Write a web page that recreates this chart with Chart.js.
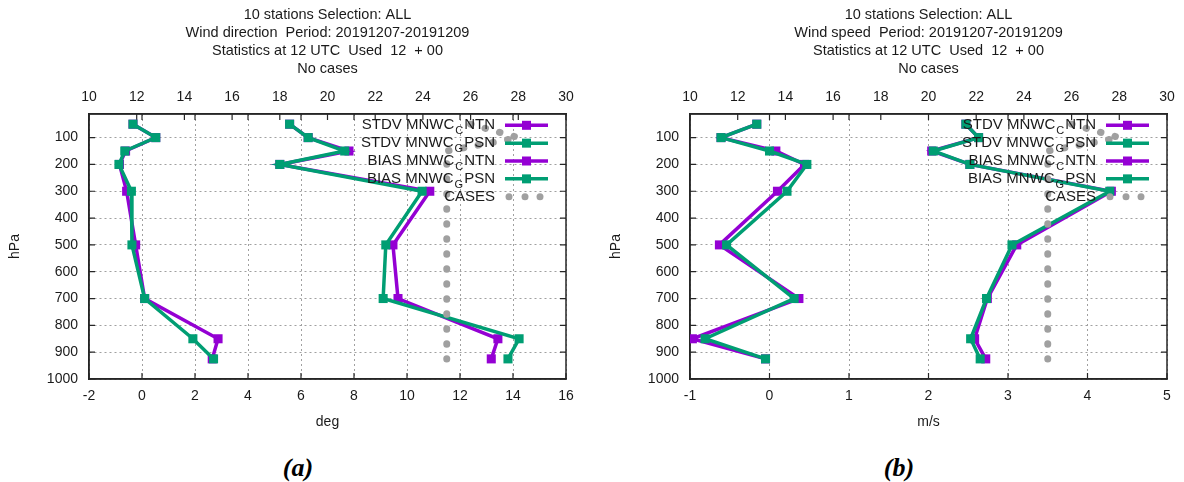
<!DOCTYPE html>
<html>
<head>
<meta charset="utf-8">
<script src="https://cdn.jsdelivr.net/npm/chart.js@4/dist/chart.umd.min.js"></script>
<style>
  html, body { margin: 0; padding: 0; background: #fff; width: 1184px; height: 482px; overflow: hidden; position: relative; }
  canvas { position: absolute; top: 0; }
  #dirChart { left: 0; }
  #speedChart { left: 601px; }
  .tag { position: absolute; top: 453px; width: 60px; line-height: 30px; text-align: center;
         font: bold italic 26px "Liberation Serif", "Times New Roman", serif; color: #000; }
</style>
</head>
<body>
<canvas id="dirChart" width="592" height="440"></canvas>
<canvas id="speedChart" width="592" height="440"></canvas>
<div class="tag" style="left:268px">(a)</div>
<div class="tag" style="left:869px">(b)</div>
<script>
// pressure levels (hPa) and axis ticks
const levels = [50, 100, 150, 200, 300, 500, 700, 850, 925];
const pressureTicks = [100, 200, 300, 400, 500, 600, 700, 800, 900, 1000];
const caseTicks = [10, 12, 14, 16, 18, 20, 22, 24, 26, 28, 30];
const keyNames = ['STDV MNWC_CNTN', 'STDV MNWC_GPSN', 'BIAS MNWC_CNTN', 'BIAS MNWC_GPSN', 'CASES'];

// wind direction (deg)
const dirTicks = [-2, 0, 2, 4, 6, 8, 10, 12, 14, 16];
const dirStdvNtn = [5.57, 6.27, 7.81, 5.2, 10.86, 9.47, 9.66, 13.43, 13.18];
const dirStdvPsn = [5.57, 6.27, 7.65, 5.2, 10.57, 9.2, 9.1, 14.23, 13.81];
const dirBiasNtn = [-0.34, 0.52, -0.62, -0.85, -0.58, -0.24, 0.1, 2.87, 2.65];
const dirBiasPsn = [-0.34, 0.52, -0.65, -0.87, -0.4, -0.38, 0.1, 1.92, 2.7];
const dirCases = [26, 28, 25, 25, 25, 25, 25, 25, 25];
const dirTitle = ['10 stations Selection: ALL', 'Wind direction  Period: 20191207-20191209',
                  'Statistics at 12 UTC  Used  12  + 00', 'No cases'];

// wind speed (m/s)
const speedTicks = [-1, 0, 1, 2, 3, 4, 5];
const speedStdvNtn = [2.47, 2.63, 2.04, 2.52, 4.3, 3.11, 2.74, 2.58, 2.72];
const speedStdvPsn = [2.47, 2.63, 2.06, 2.52, 4.28, 3.05, 2.73, 2.53, 2.65];
const speedBiasNtn = [-0.16, -0.61, 0.08, 0.44, 0.1, -0.63, 0.37, -0.97, -0.05];
const speedBiasPsn = [-0.16, -0.61, 0.0, 0.47, 0.22, -0.54, 0.31, -0.81, -0.05];
const speedCases = [26, 28, 25, 25, 25, 25, 25, 25, 25];
const speedTitle = ['10 stations Selection: ALL', 'Wind speed  Period: 20191207-20191209',
                    'Statistics at 12 UTC  Used  12  + 00', 'No cases'];

const NTN = '#9400d3';
const PSN = '#009e73';
const GREY = '#a0a0a0';
const FRAME = '#262626';
const TEXT = '#1a1a1a';
const FAMILY = '"Liberation Sans", Arial, sans-serif';

// frame box plus gnuplot-style inward tics on all four sides
const framePlugin = {
  id: 'frame',
  beforeDatasetsDraw(chart) {
    const { ctx, chartArea: a, scales } = chart;
    ctx.save();
    ctx.strokeStyle = FRAME;
    ctx.lineWidth = 1.2;
    ctx.beginPath();
    const tl = 6;
    scales.x.ticks.forEach(t => {
      const px = scales.x.getPixelForValue(t.value);
      ctx.moveTo(px, a.bottom); ctx.lineTo(px, a.bottom - tl);
      ctx.moveTo(px, a.top); ctx.lineTo(px, a.top + tl);
    });
    scales.x2.ticks.forEach(t => {
      const px = scales.x2.getPixelForValue(t.value);
      ctx.moveTo(px, a.top); ctx.lineTo(px, a.top + tl);
    });
    scales.y.ticks.forEach(t => {
      const py = scales.y.getPixelForValue(t.value);
      ctx.moveTo(a.left, py); ctx.lineTo(a.left + tl, py);
      ctx.moveTo(a.right, py); ctx.lineTo(a.right - tl, py);
    });
    ctx.stroke();
    ctx.lineWidth = 1.5;
    ctx.strokeRect(a.left, a.top, a.right - a.left, a.bottom - a.top);
    ctx.restore();
  }
};

// stacked title lines, centred over the plot
const headPlugin = {
  id: 'head',
  afterDraw(chart, args, opts) {
    const { ctx, chartArea: a } = chart;
    ctx.save();
    ctx.fillStyle = TEXT;
    ctx.font = '14.5px ' + FAMILY;
    ctx.textAlign = 'center';
    ctx.textBaseline = 'middle';
    opts.lines.forEach((s, i) => ctx.fillText(s, (a.left + a.right) / 2, 15 + i * 18));
    ctx.restore();
  }
};

// split "MNWC_CNTN" style names into normal and subscript runs
function splitName(name) {
  const parts = [];
  const i = name.indexOf('_');
  if (i < 0) return [{ t: name, sub: false }];
  parts.push({ t: name.slice(0, i), sub: false });
  parts.push({ t: name[i + 1], sub: true });
  parts.push({ t: name.slice(i + 2), sub: false });
  return parts;
}

const keyPlugin = {
  id: 'key',
  afterDatasetsDraw(chart) {
    const { ctx, chartArea: a } = chart;
    const textRight = a.right - 71;
    const lineL = a.right - 61, lineR = a.right - 18;
    const colors = [NTN, PSN, NTN, PSN];
    ctx.save();
    keyNames.forEach((name, r) => {
      const y = a.top + 11.3 + r * 17.85;
      const parts = splitName(name);
      const fonts = parts.map(p => (p.sub ? '11px ' : '15px ') + FAMILY);
      let total = 0;
      const widths = parts.map((p, k) => { ctx.font = fonts[k]; const w = ctx.measureText(p.t).width + (p.sub ? 2 : 0); total += w; return w; });
      let x = textRight - total;
      ctx.fillStyle = TEXT;
      ctx.textBaseline = 'middle';
      ctx.textAlign = 'left';
      parts.forEach((p, k) => {
        ctx.font = fonts[k];
        ctx.fillText(p.t, x + (p.sub ? 1 : 0), p.sub ? y + 6 : y);
        x += widths[k];
      });
      if (r < 4) {
        ctx.strokeStyle = colors[r];
        ctx.lineWidth = 3.5;
        ctx.beginPath(); ctx.moveTo(lineL, y); ctx.lineTo(lineR, y); ctx.stroke();
        ctx.fillStyle = colors[r];
        const mid = (lineL + lineR) / 2;
        ctx.fillRect(mid - 4.5, y - 4.5, 9, 9);
      } else {
        ctx.fillStyle = GREY;
        [lineL + 4, lineL + 20, lineL + 35].forEach(cx => {
          ctx.beginPath(); ctx.arc(cx, y, 3.5, 0, Math.PI * 2); ctx.fill();
        });
      }
    });
    ctx.restore();
  }
};

function profile(vals, color, order) {
  return {
    data: levels.map((p, i) => ({ x: vals[i], y: p })),
    borderColor: color,
    backgroundColor: color,
    borderWidth: 3.5,
    pointStyle: 'rect',
    pointRadius: 6.4,
    pointBorderWidth: 0,
    xAxisID: 'x',
    yAxisID: 'y',
    order
  };
}

function makePanel(id, p) {
  const font = { family: FAMILY, size: 14 };
  const setTicks = arr => scale => { scale.ticks = arr.map(v => ({ value: v })); };
  const plain = v => String(v);
  return new Chart(document.getElementById(id), {
    type: 'line',
    data: {
      datasets: [
        profile(p.stdvNtn, NTN, 4),
        profile(p.stdvPsn, PSN, 3),
        profile(p.biasNtn, NTN, 2),
        profile(p.biasPsn, PSN, 1),
        {
          data: levels.map((lv, i) => ({ x: p.cases[i], y: lv })),
          borderColor: GREY,
          borderWidth: 7,
          borderDash: [0.5, 14.5],
          borderCapStyle: 'round',
          pointRadius: 0,
          xAxisID: 'x2',
          yAxisID: 'y',
          order: 0
        }
      ]
    },
    options: {
      responsive: false,
      animation: false,
      events: [],
      layout: { padding: { left: 0, right: 26, top: 0, bottom: 0 } },
      plugins: {
        legend: { display: false },
        tooltip: { enabled: false },
        head: { lines: p.title }
      },
      scales: {
        x: {
          type: 'linear', position: 'bottom',
          min: p.ticks[0], max: p.ticks[p.ticks.length - 1],
          afterBuildTicks: setTicks(p.ticks),
          afterFit: s => { s.height = 61; },
          ticks: { color: TEXT, font, padding: 9, maxRotation: 0, autoSkip: false, callback: plain },
          grid: { color: GREY, lineWidth: 1, drawTicks: false },
          border: { color: FRAME, width: 1.5, dash: [2, 3] },
          title: { display: true, text: p.unit, color: TEXT, font, padding: { top: 0, bottom: 9 } }
        },
        x2: {
          type: 'linear', position: 'top',
          min: 10, max: 30,
          afterBuildTicks: setTicks(caseTicks),
          afterFit: s => { s.height = 114; },
          ticks: { color: TEXT, font, padding: 8, maxRotation: 0, autoSkip: false, callback: plain },
          grid: { drawOnChartArea: false, drawTicks: false },
          border: { color: FRAME, width: 1.5 }
        },
        y: {
          type: 'linear', position: 'left', reverse: true,
          min: 12, max: 1000,
          afterBuildTicks: setTicks(pressureTicks),
          afterFit: s => { s.width = 89; },
          ticks: { color: TEXT, font, padding: 11, autoSkip: false, callback: plain },
          grid: { color: GREY, lineWidth: 1, drawTicks: false },
          border: { color: FRAME, width: 1.5, dash: [2, 3] },
          title: { display: true, text: 'hPa', color: TEXT, font, padding: { top: 6.5, bottom: 0 } }
        }
      }
    },
    plugins: [framePlugin, headPlugin, keyPlugin]
  });
}

makePanel('dirChart', {
  ticks: dirTicks, unit: 'deg', title: dirTitle,
  stdvNtn: dirStdvNtn, stdvPsn: dirStdvPsn, biasNtn: dirBiasNtn, biasPsn: dirBiasPsn, cases: dirCases
});
makePanel('speedChart', {
  ticks: speedTicks, unit: 'm/s', title: speedTitle,
  stdvNtn: speedStdvNtn, stdvPsn: speedStdvPsn, biasNtn: speedBiasNtn, biasPsn: speedBiasPsn, cases: speedCases
});
</script>
</body>
</html>
